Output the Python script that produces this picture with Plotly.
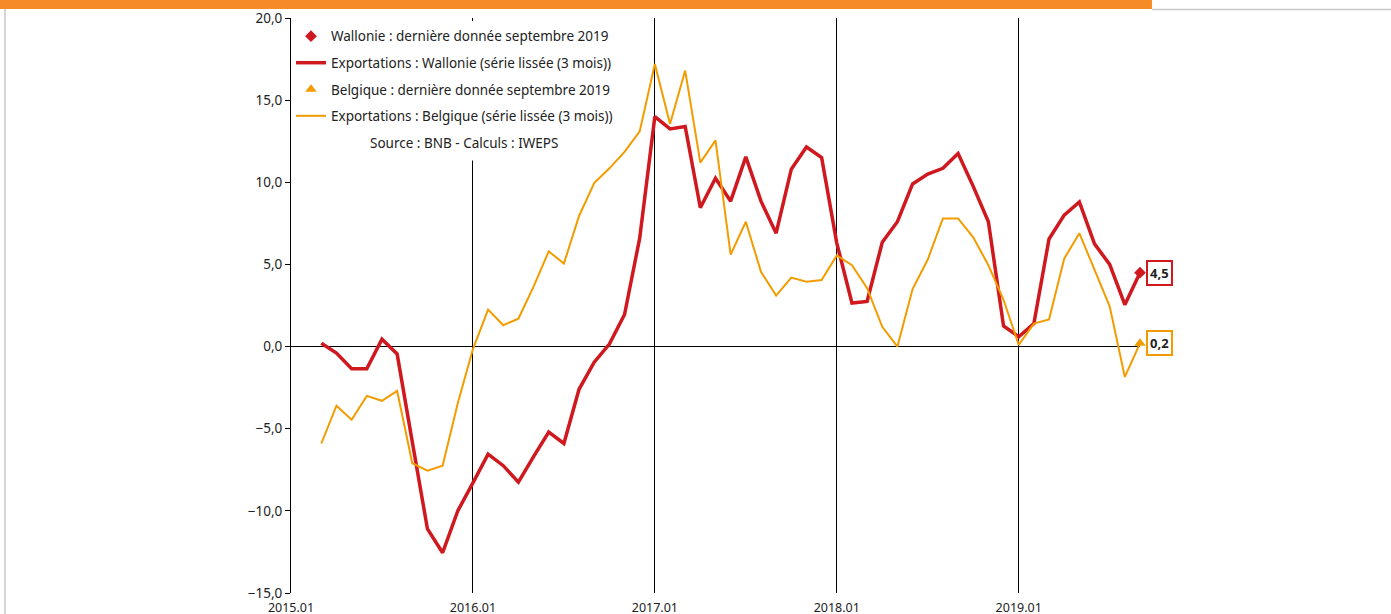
import plotly.graph_objects as go

# mois (catégories de l'axe x)
years = [2015, 2016, 2017, 2018, 2019]
months = [f"{y}.{m:02d}" for y in years for m in range(1, 13)]
months = months[:months.index("2019.09") + 1]
year_ticks = ["2015.01", "2016.01", "2017.01", "2018.01", "2019.01"]
x_series = months[2:]  # de 2015.03 à 2019.09

wallonie = [
    0.2, -0.4, -1.35, -1.35, 0.45, -0.45, -5.8, -11.1, -12.55, -10.0,
    -8.3, -6.55, -7.25, -8.25, -6.7, -5.2, -5.9, -2.6, -0.95, 0.15, 1.95, 6.6,
    14.0, 13.25, 13.4, 8.45, 10.25, 8.85, 11.55, 8.85, 6.9, 10.8, 12.15, 11.5,
    6.3, 2.65, 2.75, 6.35, 7.6, 9.9, 10.5, 10.85, 11.75, 9.75, 7.6, 1.25,
    0.6, 1.4, 6.55, 8.0, 8.8, 6.25, 5.0, 2.55, 4.5,
]
belgique = [
    -5.9, -3.6, -4.45, -3.0, -3.3, -2.7, -7.1, -7.55, -7.25, -3.45,
    -0.15, 2.25, 1.3, 1.7, 3.65, 5.8, 5.05, 7.95, 9.95, 10.85, 11.85, 13.1,
    17.2, 13.55, 16.8, 11.2, 12.55, 5.6, 7.6, 4.55, 3.1, 4.2, 3.95, 4.05,
    5.55, 4.95, 3.55, 1.2, 0.0, 3.5, 5.3, 7.8, 7.8, 6.65, 4.95, 2.85,
    0.1, 1.4, 1.65, 5.35, 6.9, 4.65, 2.45, -1.85, 0.2,
]

RED = "#D0181F"
ORANGE = "#F39C00"
FONT = "Noto Sans"
FS = 13.5

fig = go.Figure()

fig.add_trace(go.Scatter(
    x=[x_series[-1]], y=[wallonie[-1]], mode="markers", cliponaxis=False,
    marker=dict(symbol="diamond", size=9, color=RED),
    name="Wallonie : dernière donnée septembre 2019", legendgroup="a",
))
fig.add_trace(go.Scatter(
    x=x_series, y=wallonie, mode="lines", line=dict(color=RED, width=3.5),
    name="Exportations : Wallonie (série lissée (3 mois))", legendgroup="b",
))
fig.add_trace(go.Scatter(
    x=[x_series[-1]], y=[belgique[-1]], mode="markers", cliponaxis=False,
    marker=dict(symbol="triangle-up", size=10, color=ORANGE),
    name="Belgique : dernière donnée septembre 2019", legendgroup="c",
))
fig.add_trace(go.Scatter(
    x=x_series, y=belgique, mode="lines", line=dict(color=ORANGE, width=2),
    name="Exportations : Belgique (série lissée (3 mois))", legendgroup="d",
))

# étiquettes des dernières valeurs (x en indice de catégorie)
last_idx = months.index(x_series[-1])
for val, col in [(wallonie[-1], RED), (belgique[-1], ORANGE)]:
    fig.add_annotation(
        x=last_idx, y=val, text=f"<b>{val:.1f}</b>".replace(".", ","),
        showarrow=False, xanchor="left", yanchor="middle", xshift=6,
        bgcolor="white", bordercolor=col, borderwidth=2, borderpad=2,
        font=dict(family=FONT, size=13, color="#222"),
    )

fig.add_annotation(
    x=0.204, y=0.783, xref="paper", yref="paper", showarrow=False,
    xanchor="center", yanchor="middle",
    text="Source : BNB - Calculs : IWEPS", bgcolor="white", borderpad=8,
    font=dict(family=FONT, size=FS, color="#222"),
)

# bandeau orange et bords
fig.add_shape(type="rect", xref="paper", yref="paper",
              x0=-0.3428, x1=1.0141, y0=1.0157, y1=1.04,
              fillcolor="#F58A27", line_width=0, layer="above")
fig.add_shape(type="line", xref="paper", yref="paper",
              x0=1.0141, x1=1.3, y0=1.0148, y1=1.0148,
              line=dict(color="#C8C8C8", width=1.5))
fig.add_shape(type="line", xref="paper", yref="paper",
              x0=-0.3369, x1=-0.3369, y0=-0.05, y1=1.0157,
              line=dict(color="#C8C8C8", width=1.5))

fig.update_layout(
    width=1391, height=614,
    margin=dict(l=291, r=251, t=18, b=21, autoexpand=False),
    paper_bgcolor="white", plot_bgcolor="white",
    separators=", ",
    font=dict(family=FONT, size=FS, color="#222"),
    showlegend=True,
    legend=dict(
        x=0.0, y=0.995, xanchor="left", yanchor="top",
        bgcolor="white", tracegroupgap=6,
        font=dict(family=FONT, size=FS, color="#222"),
    ),
)
fig.update_xaxes(
    type="category", categoryorder="array", categoryarray=months,
    range=[0, len(months) - 1], automargin=False,
    tickmode="array", tickvals=year_ticks, ticktext=year_ticks,
    showgrid=True, gridcolor="black", gridwidth=1,
    showline=False, zeroline=False, ticks="", ticklabelstandoff=5,
    tickfont=dict(family=FONT, size=12.5, color="#222"),
)
fig.update_yaxes(
    range=[-15, 20], dtick=5, tickformat=".1f", automargin=False,
    showgrid=False, zeroline=True, zerolinecolor="black", zerolinewidth=1,
    showline=True, linecolor="black", linewidth=1,
    ticks="outside", ticklen=5, tickcolor="black",
    tickfont=dict(family=FONT, size=13.5, color="#222"),
)

fig.write_html("out.html", config={"displayModeBar": False},
               post_script="document.body.style.margin='0';")
